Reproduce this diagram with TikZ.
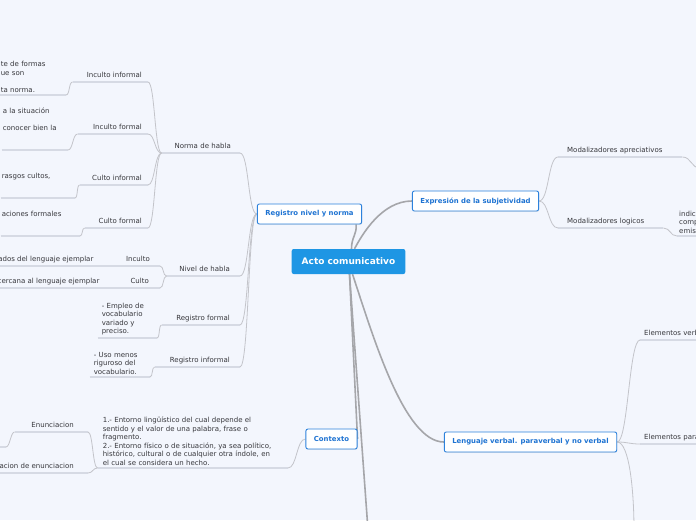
\documentclass[tikz,border=0pt]{standalone}
\usepackage{fontspec}
\setmainfont{DejaVu Sans}
\usetikzlibrary{shadows}
\definecolor{mmBg}{RGB}{243,246,253}
\definecolor{mmBlue}{RGB}{30,150,228}
\definecolor{mmEdge}{RGB}{45,130,220}
\definecolor{mmText}{RGB}{30,115,210}
\definecolor{mmInk}{RGB}{55,55,60}
\definecolor{mmLine}{RGB}{195,196,202}
\definecolor{mmTrunk}{RGB}{165,166,170}
\definecolor{mmUline}{RGB}{214,218,228}
\newcommand\topicfont{\fontsize{7}{8.5}\selectfont}
\pgfdeclarelayer{edges}
\pgfsetlayers{edges,main}
\tikzset{
  root/.style={fill=mmBlue,text=white,rounded corners=2pt,font=\fontsize{9}{11}\selectfont\bfseries,
               inner xsep=10pt,minimum height=25pt},
  mainbox/.style={draw=mmEdge,line width=0.9pt,fill=white,rounded corners=2pt,text=mmText,
                  font=\fontsize{6.9}{8}\selectfont\bfseries,inner xsep=8pt,minimum height=20pt,
                  drop shadow={shadow xshift=0.6pt,shadow yshift=-0.8pt,opacity=0.15}},
  ltopic/.style={anchor=south east,align=right,font=\topicfont,text=mmInk,inner xsep=6pt,
                 inner ysep=2.5pt,text depth=2pt},
  rtopic/.style={anchor=south west,align=left,font=\topicfont,text=mmInk,inner xsep=6pt,
                 inner ysep=2.5pt,text depth=2pt},
  leaf/.style={anchor=south east,align=left,font=\topicfont,text=mmInk,inner xsep=1pt,inner ysep=2.5pt},
  uline/.style={draw=mmUline,line width=1.3pt},
  link/.style={draw=mmLine,line width=0.8pt},
  trunk/.style={draw=mmTrunk,line width=1.6pt},
}

\begin{document}
\begin{tikzpicture}[x=1pt,y=-1pt]
  \begin{pgfonlayer}{edges}
    \fill[mmBg] (0,0) rectangle (696,520);
  \end{pgfonlayer}
  \useasboundingbox (0,0) rectangle (696,520);
  \clip (0,0) rectangle (696,520);

  % main topics
  \node[root] (acto) at (348.5,261.5) {Acto comunicativo};
  \node[mainbox] (reg) at (309.5,214) {Registro nivel y norma};
  \node[mainbox] (exp) at (475.5,201) {Expresión de la subjetividad};
  \node[mainbox] (len) at (530.5,442) {Lenguaje verbal. paraverbal y no verbal};
  \node[mainbox] (ctx) at (331.5,439) {Contexto};

  % registro nivel y norma
  \node[ltopic,inner xsep=9pt,text width=60pt] (norma) at (240,153) {Norma de habla};
  \node[ltopic,inner xsep=10pt,text width=53pt] (nivel) at (240,276) {Nivel de habla};
  \node[ltopic,inner xsep=10pt,text width=58pt] (regf) at (240,325) {Registro formal};
  \node[ltopic,inner xsep=10pt,text width=65pt] (regi) at (240,367) {Registro informal};

  \node[ltopic,text width=63pt] (incinf) at (148,82) {Inculto informal};
  \node[ltopic,text width=58pt] (incfor) at (148,134) {Inculto formal};
  \node[ltopic,text width=56pt] (culinf) at (148,185) {Culto informal};
  \node[ltopic,text width=51pt] (culfor) at (148,228) {Culto formal};

  \node[leaf,text width=64pt] (incinfL) at (66,95) {te de formas\\ue son\\\mbox{}\\ta norma.};
  \node[leaf,text width=64pt] (incforL) at (68,150) {a la situación\\\mbox{}\\conocer bien la\\\mbox{}\\\mbox{}};
  \node[leaf,text width=72pt] (culinfL) at (75,198) {rasgos cultos,\\\mbox{}\\\mbox{}};
  \node[leaf,text width=77pt] (culforL) at (80,236) {aciones formales\\\mbox{}\\\mbox{}};

  \node[ltopic,inner xsep=10pt,text width=40pt] (inc) at (160,266) {Inculto};
  \node[ltopic,inner xsep=6pt] (incL) at (inc.south west) {ados del lenguaje ejemplar};
  \node[ltopic,inner xsep=11pt,text width=33pt] (cul) at (160,288) {Culto};
  \node[ltopic,inner xsep=5pt] (culL) at (cul.south west) {cercana al lenguaje ejemplar};

  \node[leaf,inner xsep=4pt,text width=51pt] (regfL) at (157,338) {- Empleo de\\vocabulario\\variado y\\preciso.};
  \node[leaf,inner xsep=4pt,text width=52pt] (regiL) at (150,377) {- Uso menos\\riguroso del\\vocabulario.};

  % contexto
  \node[leaf,inner xsep=5pt,text width=180pt] (ctxL) at (288,468)
    {1.- Entorno lingüístico del cual depende el\\sentido y el valor de una palabra, frase o\\fragmento.\\
     2.- Entorno físico o de situación, ya sea político,\\histórico, cultural o de cualquier otra índole, en\\
     el cual se considera un hecho.};
  \node[ltopic,inner xsep=14pt,text width=45pt] (enun) at (88,432) {Enunciacion};
  \node[ltopic,inner xsep=14pt] (sit) at (88,473) {acion de enunciacion};
  \coordinate (enunL) at (6,447);

  % expresion de la subjetividad
  \node[rtopic,inner xsep=9pt,text width=106pt] (mapr) at (558,157) {Modalizadores apreciativos};
  \node[rtopic,inner xsep=9pt,text width=87pt] (mlog) at (558,228) {Modalizadores logicos};
  \node[leaf,anchor=south west,inner xsep=2pt,text width=40pt] (mlogL) at (677,236) {indic\\comp\\emis};
  \coordinate (maprL) at (700,168);

  % lenguaje
  \node[rtopic,inner xsep=4pt] (evert) at (640,340) {Elementos verb};
  \node[rtopic,inner xsep=4pt] (epara) at (640,444) {Elementos para};
  \coordinate (lenD) at (634,530);
  \coordinate (actoD) at (368,530);

  \begin{pgfonlayer}{edges}
    \foreach \n in {norma,nivel,regf,regi,incinf,incfor,culinf,culfor,incinfL,incforL,culinfL,culforL,
                    inc,incL,cul,culL,regfL,regiL,ctxL,enun,sit,mapr,mlog,mlogL,evert,epara}
      \draw[uline] (\n.south west) -- (\n.south east);
    \draw[uline] (enunL) -- +(-10,0);

    % trunk lines
    \draw[trunk] ([xshift=3pt]acto.north) .. controls +(0,-12) and +(1,10) .. ([xshift=-6pt]reg.south east);
    \draw[trunk] ([xshift=6pt]acto.north) .. controls +(8,-15) and +(-30,0) .. (exp.west);
    \draw[trunk] ([xshift=4pt]acto.south) .. controls +(20,60) and +(-40,0) .. (len.west);
    \draw[trunk] ([xshift=1pt]acto.south) -- (ctx.east);
    \draw[trunk] ([xshift=1pt]acto.south) -- (actoD);

    % branches
    \draw[link] (reg.west) .. controls +(-9,0) and +(9,0) .. (norma.south east);
    \draw[link] (reg.west) .. controls +(-9,0) and +(9,0) .. (nivel.south east);
    \draw[link] (reg.west) .. controls +(-9,0) and +(9,0) .. (regf.south east);
    \draw[link] (reg.west) .. controls +(-9,0) and +(9,0) .. (regi.south east);
    \draw[link] (norma.south west) .. controls +(-7,0) and +(7,0) .. (incinf.south east);
    \draw[link] (norma.south west) .. controls +(-7,0) and +(7,0) .. (incfor.south east);
    \draw[link] (norma.south west) .. controls +(-7,0) and +(7,0) .. (culinf.south east);
    \draw[link] (norma.south west) .. controls +(-7,0) and +(7,0) .. (culfor.south east);
    \draw[link] (incinf.south west) .. controls +(-4,0) and +(4,0) .. (incinfL.south east);
    \draw[link] (incfor.south west) .. controls +(-5,0) and +(5,0) .. (incforL.south east);
    \draw[link] (culinf.south west) .. controls +(-3,0) and +(3,0) .. (culinfL.south east);
    \draw[link] (culfor.south west) .. controls +(-3,0) and +(3,0) .. (culforL.south east);
    \draw[link] (nivel.south west) .. controls +(-4,0) and +(4,0) .. (inc.south east);
    \draw[link] (nivel.south west) .. controls +(-4,0) and +(4,0) .. (cul.south east);
    \draw[link] (regf.south west) .. controls +(-3,0) and +(3,0) .. (regfL.south east);
    \draw[link] (regi.south west) .. controls +(-3,0) and +(3,0) .. (regiL.south east);

    \draw[link] (ctx.west) .. controls +(-9,0) and +(9,0) .. (ctxL.south east);
    \draw[link] (ctxL.south west) .. controls +(-5,0) and +(5,0) .. (enun.south east);
    \draw[link] (ctxL.south west) .. controls +(-5,0) and +(5,0) .. (sit.south east);
    \draw[link] (enun.south west) .. controls +(-4,0) and +(4,0) .. (enunL);

    \draw[link] (exp.east) .. controls +(10,0) and +(-10,0) .. (mapr.south west);
    \draw[link] (exp.east) .. controls +(10,0) and +(-10,0) .. (mlog.south west);
    \draw[link] (mapr.south east) .. controls +(9,0) and +(-9,0) .. (maprL);
    \draw[link] (mlog.south east) .. controls +(7,0) and +(-7,0) .. (mlogL.south west);

    \draw[link] (len.east) .. controls +(11,0) and +(-11,0) .. (evert.south west);
    \draw[link] (len.east) .. controls +(11,0) and +(-11,0) .. (epara.south west);
    \draw[link] (len.east) .. controls +(12,0) and +(0,-40) .. (lenD);
  \end{pgfonlayer}
\end{tikzpicture}
\end{document}
